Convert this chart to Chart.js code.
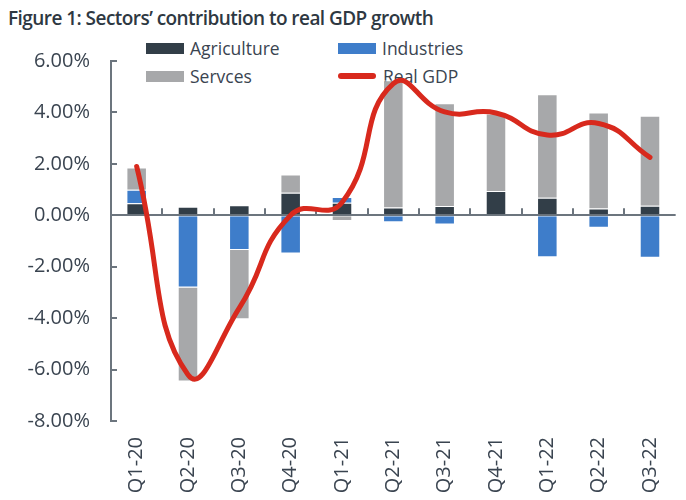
<!DOCTYPE html>
<html>
<head>
<meta charset="utf-8">
<script src="https://cdn.jsdelivr.net/npm/chart.js@4/dist/chart.umd.min.js"></script>
<style>
  html, body { margin: 0; padding: 0; background: #fff; overflow: hidden; }
  #wrap { position: relative; width: 686px; height: 500px; overflow: hidden; }
  #title {
    position: absolute; left: 8px; top: 5px; letter-spacing: -0.55px;
    font: 600 19px "Open Sans", sans-serif; color: #2e3842; white-space: nowrap;
  }
  #legend {
    position: absolute; left: 146px; top: 34px;
    display: grid; grid-template-columns: 192px 192px; grid-auto-rows: 28px;
    font: 17.5px "Open Sans", sans-serif; color: #3a4450;
  }
  .item { display: flex; align-items: center; white-space: nowrap; }
  .swatch { flex: none; width: 38px; height: 11px; margin-right: 6px; }
  .swatch.line { width: 38px; height: 6px; border-radius: 3px; margin-right: 7px; }
  #chart { position: absolute; left: 0; top: 0; }
</style>
</head>
<body>
<div id="wrap">
  <div id="title">Figure 1: Sectors’ contribution to real GDP growth</div>
  <div id="legend"></div>
  <canvas id="chart" width="690" height="500"></canvas>
</div>
<script>
// quarterly contributions, percentage points
const quarters = ["Q1-20", "Q2-20", "Q3-20", "Q4-20", "Q1-21", "Q2-21", "Q3-21", "Q4-21", "Q1-22", "Q2-22", "Q3-22"];
const agriculture = [0.47, 0.33, 0.39, 0.88, 0.49, 0.30, 0.36, 0.94, 0.68, 0.26, 0.37];
const industries = [0.52, -2.81, -1.35, -1.49, 0.22, -0.27, -0.36, 0.00, -1.63, -0.48, -1.65];
const services = [0.87, -3.65, -2.69, 0.71, -0.22, 4.95, 4.00, 3.02, 4.03, 3.74, 3.50];
const realGdp = [1.90, -6.20, -3.60, 0.00, 0.50, 5.12, 4.02, 3.98, 3.12, 3.57, 2.25];
const yTicks = [6, 4, 2, 0, -2, -4, -6, -8];

const axisColor = "#6c757e";
const textColor = "#3a4450";

// small inward ticks on the y axis and category marks on the zero line
const axisMarks = {
  id: "axisMarks",
  beforeDatasetsDraw(chart) {
    const { ctx, scales: { x, y }, chartArea } = chart;
    ctx.save();
    ctx.strokeStyle = axisColor;
    ctx.lineWidth = 2;
    ctx.beginPath();
    yTicks.forEach(v => {
      const py = Math.round(y.getPixelForValue(v));
      ctx.moveTo(chartArea.left, py);
      ctx.lineTo(chartArea.left + 6, py);
    });
    const zero = y.getPixelForValue(0);
    for (let i = 1; i < quarters.length; i++) {
      const px = Math.round((x.getPixelForValue(i - 1) + x.getPixelForValue(i)) / 2);
      ctx.moveTo(px, zero);
      ctx.lineTo(px, zero - 7);
    }
    ctx.stroke();
    ctx.restore();
  }
};

const barStyle = { borderWidth: 1, borderColor: "rgba(255,255,255,0.6)", barPercentage: 0.8, categoryPercentage: 0.5, stack: "sectors", order: 2 };

const chart = new Chart(document.getElementById("chart"), {
  data: {
    labels: quarters,
    datasets: [
      { type: "bar", label: "Agriculture", data: agriculture, backgroundColor: "#323e48", ...barStyle },
      { type: "bar", label: "Industries", data: industries, backgroundColor: "#3e7dca", ...barStyle },
      { type: "bar", label: "Servces", data: services, backgroundColor: "#a7a8aa", ...barStyle },
      {
        type: "line", label: "Real GDP", data: realGdp, stack: "gdp", order: 1,
        borderColor: "#d8291d", backgroundColor: "#d8291d", borderWidth: 5,
        borderCapStyle: "round", pointRadius: 0, tension: 0.5, fill: false
      }
    ]
  },
  options: {
    responsive: false,
    animation: false,
    layout: { padding: { top: 61, left: 0, right: 0, bottom: 0 } },
    plugins: { legend: { display: false }, tooltip: { enabled: false } },
    scales: {
      x: {
        stacked: true,
        offset: true,
        grid: { display: false, drawTicks: false },
        border: { display: false },
        ticks: {
          minRotation: 90, maxRotation: 90, padding: 16,
          color: textColor, font: { family: "Open Sans", size: 20 }
        },
        afterFit(scale) { scale.height = 79; }
      },
      y: {
        stacked: true,
        min: -8, max: 6,
        grid: {
          drawTicks: false,
          lineWidth: 2,
          color: ctx => (ctx.tick && ctx.tick.value === 0 ? axisColor : "rgba(0,0,0,0)")
        },
        border: { color: axisColor, width: 2 },
        ticks: {
          stepSize: 2, padding: 21, color: textColor,
          font: { family: "Open Sans", size: 20 },
          callback: v => v.toFixed(2) + "%"
        },
        afterFit(scale) { scale.width = 111; }
      }
    }
  },
  plugins: [axisMarks]
});

// legend in two columns, built from the datasets
const legend = document.getElementById("legend");
chart.data.datasets.forEach(ds => {
  const item = document.createElement("div");
  item.className = "item";
  const sw = document.createElement("span");
  sw.className = "swatch" + (ds.type === "line" ? " line" : "");
  sw.style.background = ds.type === "line" ? ds.borderColor : ds.backgroundColor;
  const txt = document.createElement("span");
  txt.textContent = ds.label;
  item.appendChild(sw);
  item.appendChild(txt);
  legend.appendChild(item);
});
</script>
</body>
</html>
